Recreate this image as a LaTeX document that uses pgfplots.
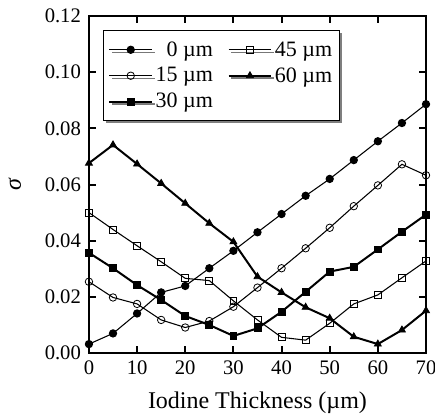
\documentclass[border=0pt]{standalone}
\usepackage{fontspec}
\setmainfont{Liberation Serif}
\usepackage{pgfplots}
\usetikzlibrary{shadows}
\pgfplotsset{compat=1.18}
\begin{document}
\begin{tikzpicture}
\begin{axis}[
  name=ax,
  width=253pt, height=253pt, scale only axis,
  xmin=0, xmax=70, ymin=0, ymax=0.12,
  xtick={0,10,...,70},
  ytick={0,0.02,...,0.12},
  yticklabel style={xshift=-2.5pt, /pgf/number format/.cd, fixed, fixed zerofill, precision=2},
  xticklabel style={yshift=-2pt},
  /pgf/number format/assume math mode=true,
  tick align=inside, major tick length=5pt,
  every tick/.style={line width=1.5pt, black},
  axis line style={line width=1.9pt},
  ticklabel style={font=\fontsize{15.5}{17}\selectfont},
  label style={font=\fontsize{18}{20}\selectfont},
  xlabel={Iodine Thickness (µm)},
  xlabel style={at={(axis description cs:0.5,-0.163)}, anchor=base},
  ylabel={\textit{σ}},
  ylabel style={at={(axis description cs:-0.22,0.5)}, anchor=center},
  legend columns=2,
  legend style={at={(0.042,0.958)}, anchor=north west, draw=black, line width=1pt,
    font=\fontsize{16.5}{18}\selectfont, inner xsep=3.5pt, inner ysep=6pt, row sep=3pt,
    drop shadow={shadow xshift=2pt, shadow yshift=-2pt, fill=black},
    /tikz/every even column/.append style={column sep=9pt}},
  legend cell align=right,
  legend image code/.code={
    \draw[mark repeat=2,mark phase=2] plot coordinates {(0pt,0pt) (16pt,0pt) (32pt,0pt)};
  },
]
\addplot[black, line width=0.8pt, mark=*, mark size=2.7pt] coordinates {
(0,0.0032) (5,0.0070) (10,0.0141) (15,0.0216) (20,0.0239) (25,0.0302) (30,0.0364)
(35,0.0430) (40,0.0495) (45,0.0560) (50,0.0620) (55,0.0687) (60,0.0754) (65,0.0819) (70,0.0886)};
\addlegendentry{0 µm}
\addplot[black, line width=0.8pt, mark=square, mark size=2.6pt, mark options={line width=0.6pt}] coordinates {
(0,0.0500) (5,0.0440) (10,0.0382) (15,0.0325) (20,0.0266) (25,0.0258) (30,0.0186)
(35,0.0118) (40,0.0056) (45,0.0046) (50,0.0106) (55,0.0175) (60,0.0207) (65,0.0268) (70,0.0328)};
\addlegendentry{45 µm}
\addplot[black, line width=0.8pt, mark=o, mark size=2.8pt, mark options={line width=0.6pt}] coordinates {
(0,0.0254) (5,0.0198) (10,0.0175) (15,0.0118) (20,0.0091) (25,0.0114) (30,0.0165)
(35,0.0233) (40,0.0302) (45,0.0373) (50,0.0446) (55,0.0523) (60,0.0597) (65,0.0672) (70,0.0633)};
\addlegendentry{15 µm}
\addplot[black, line width=1.5pt, mark=triangle*, mark size=3pt, mark options={line width=0.6pt}] coordinates {
(0,0.0676) (5,0.0741) (10,0.0673) (15,0.0604) (20,0.0533) (25,0.0462) (30,0.0396)
(35,0.0272) (40,0.0216) (45,0.0163) (50,0.0124) (55,0.0058) (60,0.0032) (65,0.0082) (70,0.0151)};
\addlegendentry{60 µm}
\addplot[black, line width=1.5pt, mark=square*, mark size=2.6pt, mark options={line width=0.6pt}] coordinates {
(0,0.0357) (5,0.0302) (10,0.0242) (15,0.0189) (20,0.0132) (25,0.0100) (30,0.0061)
(35,0.0088) (40,0.0147) (45,0.0218) (50,0.0290) (55,0.0307) (60,0.0369) (65,0.0432) (70,0.0493)};
\addlegendentry{30 µm}
\end{axis}
\pgfresetboundingbox
\path[use as bounding box] ([xshift=-66.75pt,yshift=-48pt]ax.south west) rectangle ([xshift=6.75pt,yshift=12pt]ax.north east);
\end{tikzpicture}
\end{document}
